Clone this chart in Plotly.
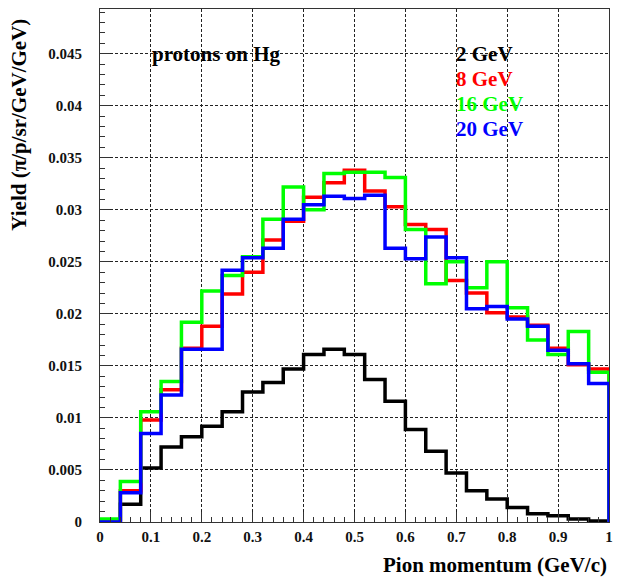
import plotly.graph_objects as go

# Bin edges: 25 bins of 0.04 GeV/c from 0 to 1
bin_lo = [round(0.04 * i, 2) for i in range(25)]
x_max = 1.0

y_2gev = [0.0001, 0.0017, 0.0052, 0.0072, 0.0082, 0.0092, 0.0106, 0.0125, 0.0134, 0.0147,
          0.0161, 0.0166, 0.0161, 0.0137, 0.0116, 0.0089, 0.0068, 0.0047, 0.0030, 0.0022,
          0.0014, 0.0008, 0.0006, 0.0003, 0.0001]
y_8gev = [0.0002, 0.0030, 0.0098, 0.0127, 0.0167, 0.0188, 0.0219, 0.0240, 0.0271, 0.0289,
          0.0312, 0.0326, 0.0338, 0.0318, 0.0303, 0.0286, 0.0281, 0.0232, 0.0220, 0.0201,
          0.0197, 0.0189, 0.0167, 0.0151, 0.0147]
y_16gev = [0.0003, 0.0039, 0.0106, 0.0135, 0.0192, 0.0222, 0.0237, 0.0255, 0.0291, 0.0322,
           0.0300, 0.0335, 0.0336, 0.0336, 0.0331, 0.0281, 0.0229, 0.0250, 0.0225, 0.0250,
           0.0206, 0.0175, 0.0161, 0.0183, 0.0144]
y_20gev = [0.0000, 0.0028, 0.0085, 0.0122, 0.0166, 0.0166, 0.0242, 0.0254, 0.0263, 0.0291,
           0.0305, 0.0313, 0.0311, 0.0314, 0.0263, 0.0253, 0.0274, 0.0254, 0.0205, 0.0207,
           0.0195, 0.0188, 0.0165, 0.0152, 0.0133]

series = [("2 GeV", y_2gev, "#000000"), ("8 GeV", y_8gev, "#ff0000"),
          ("16 GeV", y_16gev, "#00ff00"), ("20 GeV", y_20gev, "#0000ff")]

FONT = "Liberation Serif, Times New Roman, serif"

fig = go.Figure()
for name, vals, col in series:
    xs = [0.0] + bin_lo + [x_max, x_max]
    ys = [0.0] + vals + [vals[-1], 0.0]
    fig.add_trace(go.Scatter(x=xs, y=ys, mode="lines", line_shape="hv",
                             line=dict(color=col, width=3.5), name=name,
                             showlegend=False, hoverinfo="skip"))

axis_common = dict(showline=True, linecolor="#333333", linewidth=1, mirror=True,
                   showgrid=True, gridcolor="#222222", gridwidth=1, griddash="3px,2px",
                   ticks="inside", ticklen=10, tickcolor="#333333", tickwidth=1,
                   zeroline=False,
                   tickfont=dict(family=FONT, size=15, color="#111111", weight="bold"))

fig.update_xaxes(range=[0, 1],
                 minor=dict(dtick=0.02, ticks="inside", ticklen=5, tickcolor="#333333", showgrid=False),
                 tickvals=[0, 0.1, 0.2, 0.3, 0.4, 0.5, 0.6, 0.7, 0.8, 0.9, 1],
                 ticktext=["0", "0.1", "0.2", "0.3", "0.4", "0.5", "0.6", "0.7", "0.8", "0.9", "1"],
                 ticklabelstandoff=1,
                 **axis_common)
fig.update_yaxes(range=[0, 0.0493],
                 tickvals=[0, 0.005, 0.01, 0.015, 0.02, 0.025, 0.03, 0.035, 0.04, 0.045],
                 ticktext=["0", "0.005", "0.01", "0.015", "0.02", "0.025", "0.03", "0.035", "0.04", "0.045"],
                 minor=dict(dtick=0.001, ticks="inside", ticklen=5, tickcolor="#333333", showgrid=False),
                 ticklabelstandoff=14,
                 **axis_common)

ann = []
tf = dict(family=FONT, size=21, weight="bold")
ann.append(dict(text="protons on Hg", x=(150 - 100) / 513, y=(522 - 54) / 513, xref="paper", yref="paper",
                xanchor="left", yanchor="middle", showarrow=False, font=dict(tf, color="#000000")))
leg_y = [54, 79, 104, 129]
for (name, vals, col), py in zip(series, leg_y):
    ann.append(dict(text=name, x=(457 - 100) / 513, y=(522 - py) / 513, xref="paper", yref="paper",
                    xanchor="left", yanchor="middle", showarrow=False, font=dict(tf, color=col)))
ann.append(dict(text="Pion momentum (GeV/c)", x=1.0, y=(522 - 565) / 513, xref="paper", yref="paper",
                xanchor="right", yanchor="middle", showarrow=False,
                font=dict(family=FONT, size=21, weight="bold", color="#000000")))
ann.append(dict(text="Yield (π/p/sr/GeV/GeV)", x=(18 - 100) / 513, y=(522 - 125) / 513,
                xref="paper", yref="paper", xanchor="center", yanchor="middle", textangle=-90,
                showarrow=False, font=dict(family=FONT, size=21, weight="bold", color="#000000")))

fig.update_layout(width=617, height=579, margin=dict(l=100, r=4, t=9, b=57),
                  paper_bgcolor="white", plot_bgcolor="white", annotations=ann,
                  showlegend=False)

fig.write_html("out.html")
